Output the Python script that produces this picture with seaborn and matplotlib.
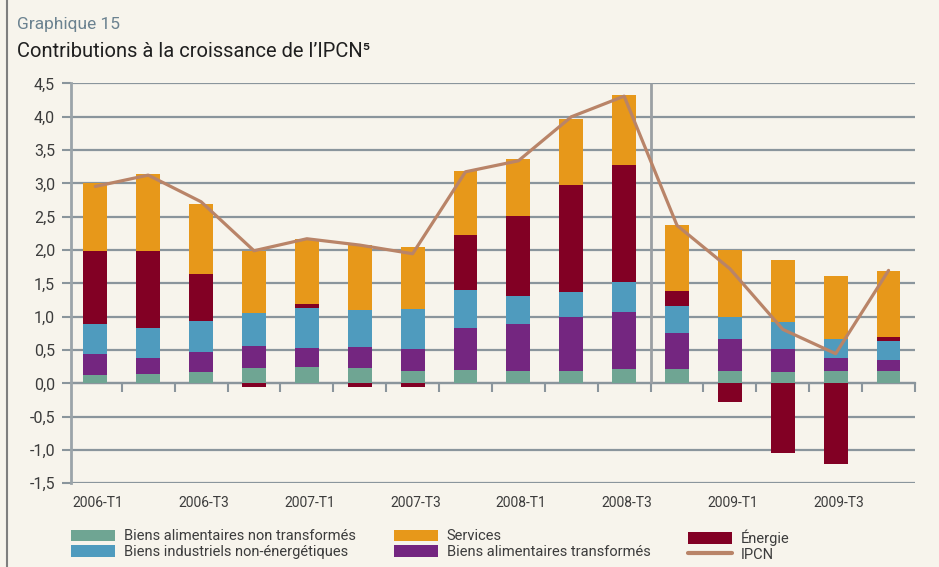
import numpy as np
import pandas as pd
import matplotlib
matplotlib.use("Agg")
import matplotlib.pyplot as plt
import matplotlib.transforms as mtransforms
from matplotlib.patches import Patch
from matplotlib.lines import Line2D
import seaborn as sns

# ---------------- data ----------------
quarters = ["2006-T1", "2006-T2", "2006-T3", "2006-T4",
            "2007-T1", "2007-T2", "2007-T3", "2007-T4",
            "2008-T1", "2008-T2", "2008-T3", "2008-T4",
            "2009-T1", "2009-T2", "2009-T3", "2009-T4"]
alim_non_transf = [0.12, 0.135, 0.165, 0.225, 0.24, 0.225, 0.18, 0.195,
                   0.18, 0.18, 0.21, 0.22, 0.19, 0.175, 0.19, 0.19]
alim_transf = [0.315, 0.24, 0.30, 0.33, 0.285, 0.315, 0.33, 0.63,
               0.705, 0.81, 0.855, 0.54, 0.48, 0.345, 0.195, 0.165]
industriels = [0.45, 0.45, 0.465, 0.495, 0.60, 0.555, 0.60, 0.57,
               0.42, 0.375, 0.45, 0.405, 0.33, 0.405, 0.285, 0.285]
energie = [1.095, 1.155, 0.705, -0.06, 0.06, -0.06, -0.06, 0.825,
           1.20, 1.605, 1.755, 0.225, -0.275, -1.04, -1.205, 0.06]
services = [1.03, 1.155, 1.05, 0.93, 0.975, 0.975, 0.93, 0.96,
            0.855, 0.99, 1.05, 0.99, 1.005, 0.93, 0.945, 0.99]
ipcn = [2.955, 3.125, 2.725, 1.99, 2.17, 2.075, 1.945, 3.175,
        3.34, 4.0, 4.31, 2.37, 1.72, 0.81, 0.445, 1.695]
x_tick_labels = ["2006-T1", "2006-T3", "2007-T1", "2007-T3",
                 "2008-T1", "2008-T3", "2009-T1", "2009-T3"]
y_ticks = [-1.5, -1.0, -0.5, 0.0, 0.5, 1.0, 1.5, 2.0, 2.5, 3.0, 3.5, 4.0, 4.5]

names = ["Biens alimentaires non transformés", "Biens alimentaires transformés",
         "Biens industriels non-énergétiques", "Énergie", "Services"]
colors = ["#6FA593", "#742680", "#4F9BBE", "#820024", "#E7981A"]
line_color = "#B98468"
line_name = "IPCN"

# ---------------- style ----------------
BG = "#F7F4EC"
GRID = "#8A959C"
sns.set_theme(style="white")
plt.rcParams["font.family"] = ["Roboto", "DejaVu Sans"]

fig = plt.figure(figsize=(9.39, 5.67), dpi=100, facecolor=BG)
W, H = 939, 567
ax = fig.add_axes([71 / W, 1 - 483.3 / H, 844 / W, 399.8 / H])
ax.set_facecolor(BG)

# ---------------- stacked bars ----------------
n = len(quarters)
pos_base = np.zeros(n)
neg_base = np.zeros(n)
for name, vals, col in zip(names, [alim_non_transf, alim_transf, industriels, energie, services], colors):
    v = np.asarray(vals, dtype=float)
    bottom = np.where(v >= 0, pos_base, neg_base)
    df = pd.DataFrame({"q": quarters, "v": v})
    sns.barplot(data=df, x="q", y="v", order=quarters, bottom=bottom,
                color=col, saturation=1, width=0.45, errorbar=None,
                linewidth=0, ax=ax, zorder=3)
    pos_base += np.where(v > 0, v, 0)
    neg_base += np.where(v < 0, v, 0)

# ---------------- IPCN line ----------------
sns.lineplot(x=np.arange(n), y=ipcn, color=line_color, linewidth=2.3,
             ax=ax, zorder=5)

# ---------------- axes ----------------
ax.set_xlim(-0.46, 15.5)
ax.set_ylim(-1.5, 4.5)
ax.set_yticks(y_ticks)
ax.set_yticklabels([f"{t:.1f}".replace(".", ",") for t in y_ticks],
                   fontsize=11.5, color="#3C3C3C")
ax.yaxis.grid(True, color=GRID, linewidth=1.6, zorder=0)
ax.xaxis.grid(False)
ax.set_axisbelow(True)
ax.set_xlabel("")
ax.set_ylabel("")

for s in ["top", "right"]:
    ax.spines[s].set_visible(False)
ax.spines["left"].set_color("#9BA4A9")
ax.spines["left"].set_linewidth(2)
ax.spines["bottom"].set_position(("data", 0))
ax.spines["bottom"].set_color(GRID)
ax.spines["bottom"].set_linewidth(1.6)
ax.spines["bottom"].set_zorder(2)

ax.set_xticks(np.arange(n) + 0.5)
ax.tick_params(axis="x", which="both", bottom=True, length=6.5, width=1.5,
               color=GRID, labelbottom=False, direction="out")
ax.tick_params(axis="y", left=True, length=6.5, width=1.5, color=GRID,
               pad=5, direction="out")

# separator between 2008-T3 and 2008-T4
ax.vlines(10.5, 0, 4.5, color="#9BA0A4", linewidth=2, zorder=4)

# x labels below plot
trans = mtransforms.blended_transform_factory(ax.transData, ax.transAxes)
for i, q in enumerate(quarters):
    if q in x_tick_labels:
        ax.text(i + 0.05, -0.05, q, transform=trans, ha="center", va="center",
                fontsize=10, color="#3C3C3C", fontstretch="condensed")

# ---------------- titles ----------------
fig.text(17 / W, 1 - 29.5 / H, "Graphique 15", fontsize=12.5, color="#6B8290",
         va="baseline", ha="left")
fig.text(17 / W, 1 - 56.7 / H, "Contributions à la croissance de l’IPCN⁵",
         fontsize=14.5, color="#1F1F1F", va="baseline", ha="left")

# left frame line
fig.add_artist(Line2D([7 / W, 7 / W], [0, 1], transform=fig.transFigure,
                      color="#7F7F7F", linewidth=1.5))

# ---------------- legend ----------------
leg_kw = dict(loc="upper left", frameon=False, borderpad=0, borderaxespad=0,
              handlelength=3.0, handleheight=0.88, handletextpad=0.62,
              labelspacing=0.12, fontsize=10.5, labelcolor="#3C3C3C")
patches = {nm: Patch(facecolor=c, edgecolor="none") for nm, c in zip(names, colors)}
line_handle = Line2D([], [], color=line_color, linewidth=3)
groups = [
    (71, [patches[names[0]], patches[names[2]]], [names[0], names[2]]),
    (394, [patches[names[4]], patches[names[1]]], [names[4], names[1]]),
    (688, [patches[names[3]], line_handle], [names[3], line_name]),
]
for x0, hs, ls in groups:
    fig.legend(hs, ls, bbox_to_anchor=(x0 / W, 1 - 529.5 / H), **leg_kw)

fig.savefig("out.png", dpi=100, facecolor=BG)
